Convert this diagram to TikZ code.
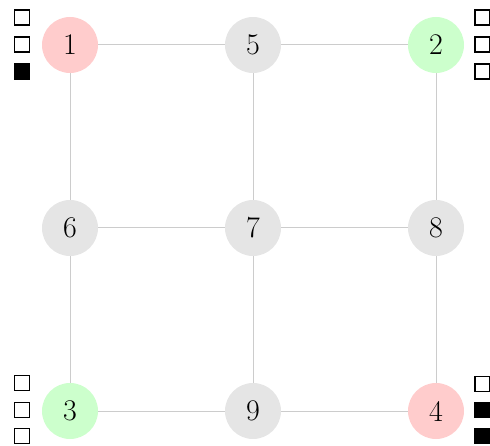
\documentclass[tikz,border=0pt]{standalone}
\begin{document}
\begin{tikzpicture}[x=1pt,y=-1pt,
  vert/.style={circle,minimum size=56pt,inner sep=0pt,font=\fontsize{30}{36}\selectfont},
  gnode/.style={vert,fill=black!10},
  rnode/.style={vert,fill=red!20},
  grnode/.style={vert,fill=green!20},
  edge/.style={draw=black!20,line width=1pt},
  emptybox/.style={draw=black,line width=1.3pt,fill=white,minimum size=15pt,inner sep=0pt},
  fullbox/.style={draw=black,line width=1.3pt,fill=black,minimum size=15pt,inner sep=0pt}]
\useasboundingbox (0,0) rectangle (490,446);
\node[rnode] (n1) at (70,45) {1};
\node[gnode] (n5) at (253,45) {5};
\node[grnode] (n2) at (436,45) {2};
\node[gnode] (n6) at (70,228) {6};
\node[gnode] (n7) at (253,228) {7};
\node[gnode] (n8) at (436,228) {8};
\node[grnode] (n3) at (70,411) {3};
\node[gnode] (n9) at (253,411) {9};
\node[rnode] (n4) at (436,411) {4};
\draw[edge] (n1) -- (n5); \draw[edge] (n5) -- (n2);
\draw[edge] (n6) -- (n7); \draw[edge] (n7) -- (n8);
\draw[edge] (n3) -- (n9); \draw[edge] (n9) -- (n4);
\draw[edge] (n1) -- (n6); \draw[edge] (n6) -- (n3);
\draw[edge] (n5) -- (n7); \draw[edge] (n7) -- (n9);
\draw[edge] (n2) -- (n8); \draw[edge] (n8) -- (n4);
% boxes near node 1
\node[emptybox] (b1a) at (22,17.5) {};
\node[emptybox] (b1b) at (22,44.5) {};
\node[fullbox] (b1c) at (22,71.5) {};
% boxes near node 2
\node[emptybox] (b2a) at (482.5,17.5) {};
\node[emptybox] (b2b) at (482.5,44.5) {};
\node[emptybox] (b2c) at (482.5,71.5) {};
% boxes near node 3
\node[emptybox] (b3a) at (22,383) {};
\node[emptybox] (b3b) at (22,410) {};
\node[emptybox] (b3c) at (22,436) {};
% boxes near node 4
\node[emptybox] (b4a) at (482.5,384) {};
\node[fullbox] (b4b) at (482.5,410) {};
\node[fullbox] (b4c) at (482.5,436) {};
\end{tikzpicture}
\end{document}
